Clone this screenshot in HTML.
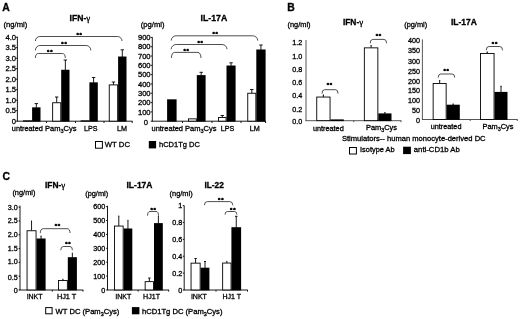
<!DOCTYPE html>
<html lang="en">
<head>
<meta charset="utf-8">
<title>Figure</title>
<style>
html,body{margin:0;padding:0;background:#fff;}
body{width:520px;height:319px;overflow:hidden;}
svg{display:block;font-family:"Liberation Sans", sans-serif;fill:#000;}
text{stroke:#000;stroke-width:0.3px;}
</style>
</head>
<body>
<svg width="520" height="319" viewBox="0 0 520 319">
<rect x="0" y="0" width="520" height="319" fill="#fff"/>
<text x="2.2" y="10.7" font-size="10.4" font-weight="bold">A</text>
<text x="69.6" y="20.6" font-size="8.6" font-weight="bold">IFN-<tspan font-family="'Liberation Serif', serif" font-weight="normal" font-size="9">γ</tspan></text>
<text x="3.6" y="27.2" font-size="7.6">(ng/ml)</text>
<line x1="17.4" y1="36.8" x2="17.4" y2="121.2" stroke="#000" stroke-width="0.9"/>
<line x1="15.799999999999999" y1="121.2" x2="17.4" y2="121.2" stroke="#000" stroke-width="0.9"/>
<text x="16.0" y="123.92" font-size="7.6" text-anchor="end">0</text>
<line x1="15.799999999999999" y1="110.7" x2="17.4" y2="110.7" stroke="#000" stroke-width="0.9"/>
<text x="16.0" y="113.42" font-size="7.6" text-anchor="end">0.5</text>
<line x1="15.799999999999999" y1="100.2" x2="17.4" y2="100.2" stroke="#000" stroke-width="0.9"/>
<text x="16.0" y="102.92" font-size="7.6" text-anchor="end">1.0</text>
<line x1="15.799999999999999" y1="89.7" x2="17.4" y2="89.7" stroke="#000" stroke-width="0.9"/>
<text x="16.0" y="92.42" font-size="7.6" text-anchor="end">1.5</text>
<line x1="15.799999999999999" y1="79.2" x2="17.4" y2="79.2" stroke="#000" stroke-width="0.9"/>
<text x="16.0" y="81.92" font-size="7.6" text-anchor="end">2.0</text>
<line x1="15.799999999999999" y1="68.7" x2="17.4" y2="68.7" stroke="#000" stroke-width="0.9"/>
<text x="16.0" y="71.42" font-size="7.6" text-anchor="end">2.5</text>
<line x1="15.799999999999999" y1="58.2" x2="17.4" y2="58.2" stroke="#000" stroke-width="0.9"/>
<text x="16.0" y="60.92" font-size="7.6" text-anchor="end">3.0</text>
<line x1="15.799999999999999" y1="47.7" x2="17.4" y2="47.7" stroke="#000" stroke-width="0.9"/>
<text x="16.0" y="50.42" font-size="7.6" text-anchor="end">3.5</text>
<line x1="15.799999999999999" y1="37.2" x2="17.4" y2="37.2" stroke="#000" stroke-width="0.9"/>
<text x="16.0" y="39.92" font-size="7.6" text-anchor="end">4.0</text>
<line x1="17.0" y1="121.2" x2="132.5" y2="121.2" stroke="#000" stroke-width="0.9"/>
<line x1="46.5" y1="121.2" x2="46.5" y2="123.0" stroke="#000" stroke-width="0.9"/>
<line x1="75.5" y1="121.2" x2="75.5" y2="123.0" stroke="#000" stroke-width="0.9"/>
<line x1="104" y1="121.2" x2="104" y2="123.0" stroke="#000" stroke-width="0.9"/>
<line x1="132.2" y1="121.2" x2="132.2" y2="123.0" stroke="#000" stroke-width="0.9"/>
<rect x="23" y="120.36" width="9" height="1.2399999999999949" fill="#000"/>
<line x1="36.3" y1="103.6" x2="36.3" y2="107.84" stroke="#000" stroke-width="0.9"/>
<line x1="34.599999999999994" y1="103.6" x2="38.0" y2="103.6" stroke="#000" stroke-width="0.9"/>
<rect x="32.1" y="107.34" width="8.399999999999999" height="14.259999999999991" fill="#000"/>
<line x1="56.7" y1="97" x2="56.7" y2="102.8" stroke="#000" stroke-width="0.9"/>
<line x1="55.0" y1="97" x2="58.400000000000006" y2="97" stroke="#000" stroke-width="0.9"/>
<rect x="52.650000000000006" y="102.75" width="8.1" height="18.4" fill="#fff" stroke="#000" stroke-width="0.9"/>
<line x1="65.35" y1="60" x2="65.35" y2="70.25" stroke="#000" stroke-width="0.9"/>
<line x1="63.64999999999999" y1="60" x2="67.05" y2="60" stroke="#000" stroke-width="0.9"/>
<rect x="61.2" y="69.75" width="8.299999999999997" height="51.849999999999994" fill="#000"/>
<rect x="80.6" y="120.36" width="8.800000000000011" height="1.2399999999999949" fill="#000"/>
<line x1="93.6" y1="77.5" x2="93.6" y2="82.85" stroke="#000" stroke-width="0.9"/>
<line x1="91.89999999999999" y1="77.5" x2="95.3" y2="77.5" stroke="#000" stroke-width="0.9"/>
<rect x="89.4" y="82.35" width="8.399999999999991" height="39.25" fill="#000"/>
<line x1="113.44999999999999" y1="82" x2="113.44999999999999" y2="84.95" stroke="#000" stroke-width="0.9"/>
<line x1="111.74999999999999" y1="82" x2="115.14999999999999" y2="82" stroke="#000" stroke-width="0.9"/>
<rect x="109.25" y="84.9" width="8.399999999999997" height="36.24999999999999" fill="#fff" stroke="#000" stroke-width="0.9"/>
<line x1="122.3" y1="49.8" x2="122.3" y2="57.02" stroke="#000" stroke-width="0.9"/>
<line x1="120.6" y1="49.8" x2="124.0" y2="49.8" stroke="#000" stroke-width="0.9"/>
<rect x="118.1" y="56.52" width="8.400000000000006" height="65.07999999999998" fill="#000"/>
<text x="11.8" y="130.8" font-size="7.5" textLength="31" lengthAdjust="spacingAndGlyphs">untreated</text>
<text x="45" y="130.8" font-size="7.5" textLength="31.5" lengthAdjust="spacingAndGlyphs">Pam<tspan font-size="5.5" dy="2">3</tspan><tspan dy="-2">Cys</tspan></text>
<text x="84" y="130.8" font-size="7.5" textLength="13.5" lengthAdjust="spacingAndGlyphs">LPS</text>
<text x="116.9" y="130.8" font-size="7.5" textLength="10" lengthAdjust="spacingAndGlyphs">LM</text>
<path d="M35.4,41 A4.5,4.5 0 0 1 39.9,36.5 L117.5,36.5 A4.5,4.5 0 0 1 122,41" fill="none" stroke="#222" stroke-width="0.8"/>
<text x="79.6" y="36.5" font-size="6" text-anchor="middle" font-weight="bold" letter-spacing="0.8" style="stroke-width:0.45px">**</text>
<path d="M35.4,50.4 A4.5,4.899999999999999 0 0 1 39.9,45.5 L86.3,45.5 A4.5,4.899999999999999 0 0 1 90.8,50.4" fill="none" stroke="#222" stroke-width="0.8"/>
<text x="64.4" y="45.75" font-size="6" text-anchor="middle" font-weight="bold" letter-spacing="0.8" style="stroke-width:0.45px">**</text>
<path d="M35.4,58 A3,4.5 0 0 1 38.4,53.5 L62.3,53.5 A3,4.5 0 0 1 65.3,58" fill="none" stroke="#222" stroke-width="0.8"/>
<text x="50.2" y="53.9" font-size="6" text-anchor="middle" font-weight="bold" letter-spacing="0.8" style="stroke-width:0.45px">**</text>
<text x="200.6" y="20.6" font-size="8.7" font-weight="bold" textLength="26.7" lengthAdjust="spacingAndGlyphs">IL-17A</text>
<text x="140.8" y="27.2" font-size="7.6">(pg/ml)</text>
<line x1="152.3" y1="37.2" x2="152.3" y2="121.2" stroke="#000" stroke-width="0.9"/>
<line x1="150.70000000000002" y1="121.2" x2="152.3" y2="121.2" stroke="#000" stroke-width="0.9"/>
<line x1="150.70000000000002" y1="111.89" x2="152.3" y2="111.89" stroke="#000" stroke-width="0.9"/>
<text x="150.6" y="114.61" font-size="7.6" text-anchor="end">100</text>
<line x1="150.70000000000002" y1="102.58" x2="152.3" y2="102.58" stroke="#000" stroke-width="0.9"/>
<text x="150.6" y="105.3" font-size="7.6" text-anchor="end">200</text>
<line x1="150.70000000000002" y1="93.27" x2="152.3" y2="93.27" stroke="#000" stroke-width="0.9"/>
<text x="150.6" y="95.99" font-size="7.6" text-anchor="end">300</text>
<line x1="150.70000000000002" y1="83.96" x2="152.3" y2="83.96" stroke="#000" stroke-width="0.9"/>
<text x="150.6" y="86.68" font-size="7.6" text-anchor="end">400</text>
<line x1="150.70000000000002" y1="74.64" x2="152.3" y2="74.64" stroke="#000" stroke-width="0.9"/>
<text x="150.6" y="77.36" font-size="7.6" text-anchor="end">500</text>
<line x1="150.70000000000002" y1="65.33" x2="152.3" y2="65.33" stroke="#000" stroke-width="0.9"/>
<text x="150.6" y="68.05" font-size="7.6" text-anchor="end">600</text>
<line x1="150.70000000000002" y1="56.02" x2="152.3" y2="56.02" stroke="#000" stroke-width="0.9"/>
<text x="150.6" y="58.74" font-size="7.6" text-anchor="end">700</text>
<line x1="150.70000000000002" y1="46.71" x2="152.3" y2="46.71" stroke="#000" stroke-width="0.9"/>
<text x="150.6" y="49.43" font-size="7.6" text-anchor="end">800</text>
<line x1="150.70000000000002" y1="37.4" x2="152.3" y2="37.4" stroke="#000" stroke-width="0.9"/>
<text x="150.6" y="40.12" font-size="7.6" text-anchor="end">900</text>
<text x="147.9" y="124.6" font-size="7.6" text-anchor="end">0</text>
<line x1="151.9" y1="121.2" x2="266" y2="121.2" stroke="#000" stroke-width="0.9"/>
<line x1="182.5" y1="121.2" x2="182.5" y2="123.0" stroke="#000" stroke-width="0.9"/>
<line x1="212" y1="121.2" x2="212" y2="123.0" stroke="#000" stroke-width="0.9"/>
<line x1="241" y1="121.2" x2="241" y2="123.0" stroke="#000" stroke-width="0.9"/>
<line x1="265.6" y1="121.2" x2="265.6" y2="123.0" stroke="#000" stroke-width="0.9"/>
<rect x="167.1" y="99.32" width="9.5" height="22.28" fill="#000"/>
<rect x="188.45" y="118.86" width="7.900000000000011" height="2.289999999999998" fill="#fff" stroke="#000" stroke-width="0.9"/>
<line x1="201.2" y1="72.3" x2="201.2" y2="75.61" stroke="#000" stroke-width="0.9"/>
<line x1="199.5" y1="72.3" x2="202.89999999999998" y2="72.3" stroke="#000" stroke-width="0.9"/>
<rect x="196.8" y="75.11" width="8.799999999999983" height="46.489999999999995" fill="#000"/>
<line x1="222.3" y1="115.5" x2="222.3" y2="117.51" stroke="#000" stroke-width="0.9"/>
<line x1="220.60000000000002" y1="115.5" x2="224.0" y2="115.5" stroke="#000" stroke-width="0.9"/>
<rect x="218.54999999999998" y="117.46000000000001" width="7.500000000000005" height="3.6899999999999893" fill="#fff" stroke="#000" stroke-width="0.9"/>
<line x1="231.05" y1="62.8" x2="231.05" y2="66.02" stroke="#000" stroke-width="0.9"/>
<line x1="229.35000000000002" y1="62.8" x2="232.75" y2="62.8" stroke="#000" stroke-width="0.9"/>
<rect x="226.5" y="65.52" width="9.099999999999994" height="56.08" fill="#000"/>
<line x1="251.8" y1="89.5" x2="251.8" y2="93.3" stroke="#000" stroke-width="0.9"/>
<line x1="250.10000000000002" y1="89.5" x2="253.5" y2="89.5" stroke="#000" stroke-width="0.9"/>
<rect x="247.75" y="93.25" width="8.1" height="27.9" fill="#fff" stroke="#000" stroke-width="0.9"/>
<line x1="260.95000000000005" y1="45" x2="260.95000000000005" y2="50.0" stroke="#000" stroke-width="0.9"/>
<line x1="259.25000000000006" y1="45" x2="262.65000000000003" y2="45" stroke="#000" stroke-width="0.9"/>
<rect x="256.3" y="49.5" width="9.300000000000011" height="72.1" fill="#000"/>
<text x="151.5" y="130.8" font-size="7.5" textLength="31.5" lengthAdjust="spacingAndGlyphs">untreated</text>
<text x="185" y="130.8" font-size="7.5" textLength="31.5" lengthAdjust="spacingAndGlyphs">Pam<tspan font-size="5.5" dy="2">3</tspan><tspan dy="-2">Cys</tspan></text>
<text x="220.8" y="130.8" font-size="7.5" textLength="13.5" lengthAdjust="spacingAndGlyphs">LPS</text>
<text x="249.7" y="130.8" font-size="7.5" textLength="10" lengthAdjust="spacingAndGlyphs">LM</text>
<path d="M171.2,40.6 A5,4.800000000000004 0 0 1 176.2,35.8 L252.7,35.8 A5,4.800000000000004 0 0 1 257.7,40.6" fill="none" stroke="#222" stroke-width="0.8"/>
<text x="215.6" y="36.25" font-size="6" text-anchor="middle" font-weight="bold" letter-spacing="0.8" style="stroke-width:0.45px">**</text>
<path d="M171.2,49.2 A5,4.700000000000003 0 0 1 176.2,44.5 L222,44.5 A5,4.700000000000003 0 0 1 227,49.2" fill="none" stroke="#222" stroke-width="0.8"/>
<text x="200.6" y="45.4" font-size="6" text-anchor="middle" font-weight="bold" letter-spacing="0.8" style="stroke-width:0.45px">**</text>
<path d="M171.4,58 A3,5.600000000000001 0 0 1 174.4,52.4 L198,52.4 A3,5.600000000000001 0 0 1 201,58" fill="none" stroke="#222" stroke-width="0.8"/>
<text x="186.6" y="53.1" font-size="6" text-anchor="middle" font-weight="bold" letter-spacing="0.8" style="stroke-width:0.45px">**</text>
<rect x="95.5" y="141.5" width="6.9" height="6.7" fill="#fff" stroke="#000" stroke-width="1.0"/>
<text x="104.8" y="147.1" font-size="7.7" textLength="25.2" lengthAdjust="spacingAndGlyphs">WT DC</text>
<rect x="148.8" y="141" width="7.3" height="7.4" fill="#000"/>
<text x="159" y="147.1" font-size="7.7" textLength="41" lengthAdjust="spacingAndGlyphs">hCD1Tg DC</text>
<text x="287.2" y="10.5" font-size="10.4" font-weight="bold">B</text>
<text x="342.9" y="24.9" font-size="8.4" font-weight="bold">IFN-<tspan font-family="'Liberation Serif', serif" font-weight="normal" font-size="9">γ</tspan></text>
<text x="287.5" y="27.0" font-size="7.4">(ng/ml)</text>
<line x1="306" y1="40" x2="306" y2="121" stroke="#444" stroke-width="0.9"/>
<text x="302.2" y="123.83" font-size="7.2" text-anchor="end">0.0</text>
<text x="302.2" y="112.18" font-size="7.2" text-anchor="end">0.2</text>
<text x="302.2" y="98.38" font-size="7.2" text-anchor="end">0.4</text>
<text x="302.2" y="85.08" font-size="7.2" text-anchor="end">0.6</text>
<text x="302.2" y="72.08" font-size="7.2" text-anchor="end">0.8</text>
<text x="302.2" y="58.68" font-size="7.2" text-anchor="end">1.0</text>
<text x="302.2" y="45.33" font-size="7.2" text-anchor="end">1.2</text>
<line x1="305.6" y1="120.7" x2="401.3" y2="120.7" stroke="#444" stroke-width="0.9"/>
<line x1="353.7" y1="120.7" x2="353.7" y2="122.2" stroke="#444" stroke-width="0.9"/>
<line x1="401" y1="120.7" x2="401" y2="122.2" stroke="#444" stroke-width="0.9"/>
<line x1="323.4" y1="95" x2="323.4" y2="97.1" stroke="#000" stroke-width="0.9"/>
<line x1="322.79999999999995" y1="95" x2="324.0" y2="95" stroke="#000" stroke-width="0.9"/>
<rect x="316.75" y="97.05" width="13.299999999999988" height="23.6" fill="#fff" stroke="#000" stroke-width="0.9"/>
<rect x="330.5" y="119.4" width="13.300000000000011" height="1.6999999999999886" fill="#000"/>
<line x1="371.1" y1="45.6" x2="371.1" y2="47.9" stroke="#000" stroke-width="0.9"/>
<line x1="370.5" y1="45.6" x2="371.70000000000005" y2="45.6" stroke="#000" stroke-width="0.9"/>
<rect x="364.34999999999997" y="47.85" width="13.500000000000034" height="72.79999999999998" fill="#fff" stroke="#000" stroke-width="0.9"/>
<line x1="384.9" y1="112.6" x2="384.9" y2="113.9" stroke="#000" stroke-width="0.9"/>
<line x1="384.29999999999995" y1="112.6" x2="385.5" y2="112.6" stroke="#000" stroke-width="0.9"/>
<rect x="378.3" y="113.4" width="13.199999999999989" height="7.699999999999989" fill="#000"/>
<text x="312.9" y="130.5" font-size="7.3" textLength="30.8" lengthAdjust="spacingAndGlyphs">untreated</text>
<text x="366" y="130.2" font-size="7.3" textLength="31" lengthAdjust="spacingAndGlyphs">Pam<tspan font-size="5.3" dy="2">3</tspan><tspan dy="-2">Cys</tspan></text>
<path d="M322,93.6 A2.6,3.8999999999999915 0 0 1 324.6,89.7 L335.5,89.7 A2.6,3.8999999999999915 0 0 1 338.1,93.6" fill="none" stroke="#222" stroke-width="0.8"/>
<text x="329.8" y="87.0" font-size="6" text-anchor="middle" font-weight="bold" letter-spacing="0.8" style="stroke-width:0.45px">**</text>
<path d="M370.2,43.3 A2.6,3.8999999999999986 0 0 1 372.8,39.4 L384.0,39.4 A2.6,3.8999999999999986 0 0 1 386.6,43.3" fill="none" stroke="#222" stroke-width="0.8"/>
<text x="378.8" y="37.5" font-size="6" text-anchor="middle" font-weight="bold" letter-spacing="0.8" style="stroke-width:0.45px">**</text>
<text x="341.9" y="140.8" font-size="7.5" textLength="143.7" lengthAdjust="spacingAndGlyphs">Stimulators-- human monocyte-derived DC</text>
<rect x="349.5" y="147.5" width="6.9" height="6.5" fill="#fff" stroke="#000" stroke-width="1.0"/>
<text x="360" y="152" font-size="7.5" textLength="34.6" lengthAdjust="spacingAndGlyphs">Isotype Ab</text>
<rect x="403.1" y="146.7" width="7.8" height="7.4" fill="#000"/>
<text x="413.8" y="152" font-size="7.5" textLength="46" lengthAdjust="spacingAndGlyphs">anti-CD1b Ab</text>
<text x="451" y="24.9" font-size="8.4" font-weight="bold" textLength="25.9" lengthAdjust="spacingAndGlyphs">IL-17A</text>
<text x="404.2" y="27.3" font-size="7.4">(pg/ml)</text>
<line x1="422.4" y1="39.4" x2="422.4" y2="120" stroke="#444" stroke-width="0.9"/>
<text x="419.9" y="122.58" font-size="7.2" text-anchor="end">0</text>
<text x="419.9" y="112.83" font-size="7.2" text-anchor="end">50</text>
<text x="419.9" y="103.18" font-size="7.2" text-anchor="end">100</text>
<text x="419.9" y="93.18" font-size="7.2" text-anchor="end">150</text>
<text x="419.9" y="83.68" font-size="7.2" text-anchor="end">200</text>
<text x="419.9" y="73.83" font-size="7.2" text-anchor="end">250</text>
<text x="419.9" y="63.58" font-size="7.2" text-anchor="end">300</text>
<text x="419.9" y="53.38" font-size="7.2" text-anchor="end">350</text>
<text x="419.9" y="43.18" font-size="7.2" text-anchor="end">400</text>
<line x1="422" y1="119.5" x2="517.6" y2="119.5" stroke="#444" stroke-width="0.9"/>
<line x1="470.2" y1="119.5" x2="470.2" y2="121.0" stroke="#444" stroke-width="0.9"/>
<line x1="517.3" y1="119.5" x2="517.3" y2="121.0" stroke="#444" stroke-width="0.9"/>
<line x1="439.65" y1="80.6" x2="439.65" y2="83.5" stroke="#000" stroke-width="0.9"/>
<line x1="439.04999999999995" y1="80.6" x2="440.25" y2="80.6" stroke="#000" stroke-width="0.9"/>
<rect x="433.15" y="83.45" width="13.000000000000034" height="36.00000000000001" fill="#fff" stroke="#000" stroke-width="0.9"/>
<line x1="453.20000000000005" y1="104.0" x2="453.20000000000005" y2="105.2" stroke="#000" stroke-width="0.9"/>
<line x1="452.6" y1="104.0" x2="453.80000000000007" y2="104.0" stroke="#000" stroke-width="0.9"/>
<rect x="446.6" y="104.7" width="13.199999999999989" height="15.200000000000003" fill="#000"/>
<line x1="487.25" y1="52.0" x2="487.25" y2="53.5" stroke="#000" stroke-width="0.9"/>
<line x1="486.65" y1="52.0" x2="487.85" y2="52.0" stroke="#000" stroke-width="0.9"/>
<rect x="480.45" y="53.45" width="13.6" height="66.0" fill="#fff" stroke="#000" stroke-width="0.9"/>
<line x1="501.0" y1="86.3" x2="501.0" y2="92.4" stroke="#000" stroke-width="0.9"/>
<line x1="500.3" y1="86.3" x2="501.7" y2="86.3" stroke="#000" stroke-width="0.9"/>
<rect x="494.5" y="91.9" width="13.0" height="28.0" fill="#000"/>
<text x="430.7" y="128.9" font-size="7.3" textLength="30.8" lengthAdjust="spacingAndGlyphs">untreated</text>
<text x="482.5" y="128.9" font-size="7.3" textLength="31" lengthAdjust="spacingAndGlyphs">Pam<tspan font-size="5.3" dy="2">3</tspan><tspan dy="-2">Cys</tspan></text>
<path d="M438.2,77.6 A2.6,3.5999999999999943 0 0 1 440.8,74 L452.09999999999997,74 A2.6,3.5999999999999943 0 0 1 454.7,77.6" fill="none" stroke="#222" stroke-width="0.8"/>
<text x="446.6" y="72.5" font-size="6" text-anchor="middle" font-weight="bold" letter-spacing="0.8" style="stroke-width:0.45px">**</text>
<path d="M486.3,50.3 A2.6,3.799999999999997 0 0 1 488.90000000000003,46.5 L499.9,46.5 A2.6,3.799999999999997 0 0 1 502.5,50.3" fill="none" stroke="#222" stroke-width="0.8"/>
<text x="495.0" y="46.2" font-size="6" text-anchor="middle" font-weight="bold" letter-spacing="0.8" style="stroke-width:0.45px">**</text>
<text x="2.4" y="179.9" font-size="10.4" font-weight="bold">C</text>
<text x="45" y="188.2" font-size="8.4" font-weight="bold">IFN-<tspan font-family="'Liberation Serif', serif" font-weight="normal" font-size="9">γ</tspan></text>
<text x="12.4" y="195.4" font-size="7.4">(ng/ml)</text>
<line x1="20" y1="205.6" x2="20" y2="290" stroke="#000" stroke-width="0.9"/>
<line x1="18.6" y1="290.0" x2="20" y2="290.0" stroke="#000" stroke-width="0.9"/>
<text x="17.8" y="292.83" font-size="7.2" text-anchor="end">0</text>
<line x1="18.6" y1="276.2" x2="20" y2="276.2" stroke="#000" stroke-width="0.9"/>
<text x="17.8" y="279.58" font-size="7.2" text-anchor="end">0.5</text>
<line x1="18.6" y1="262.4" x2="20" y2="262.4" stroke="#000" stroke-width="0.9"/>
<text x="17.8" y="264.48" font-size="7.2" text-anchor="end">1.0</text>
<line x1="18.6" y1="248.6" x2="20" y2="248.6" stroke="#000" stroke-width="0.9"/>
<text x="17.8" y="250.88" font-size="7.2" text-anchor="end">1.5</text>
<line x1="18.6" y1="234.8" x2="20" y2="234.8" stroke="#000" stroke-width="0.9"/>
<text x="17.8" y="237.48" font-size="7.2" text-anchor="end">2.0</text>
<line x1="18.6" y1="221.0" x2="20" y2="221.0" stroke="#000" stroke-width="0.9"/>
<text x="17.8" y="223.38" font-size="7.2" text-anchor="end">2.5</text>
<line x1="18.6" y1="207.2" x2="20" y2="207.2" stroke="#000" stroke-width="0.9"/>
<text x="17.8" y="209.58" font-size="7.2" text-anchor="end">3.0</text>
<line x1="19.6" y1="290" x2="83.3" y2="290" stroke="#000" stroke-width="0.9"/>
<line x1="52.3" y1="290" x2="52.3" y2="291.6" stroke="#000" stroke-width="0.9"/>
<line x1="83" y1="290" x2="83" y2="291.6" stroke="#000" stroke-width="0.9"/>
<line x1="31.55" y1="221" x2="31.55" y2="230.8" stroke="#000" stroke-width="0.9"/>
<line x1="31.1" y1="221" x2="32.0" y2="221" stroke="#000" stroke-width="0.9"/>
<rect x="27.05" y="230.75" width="8.999999999999998" height="59.19999999999997" fill="#fff" stroke="#000" stroke-width="0.9"/>
<line x1="41.05" y1="236" x2="41.05" y2="239.0" stroke="#000" stroke-width="0.9"/>
<line x1="40.599999999999994" y1="236" x2="41.5" y2="236" stroke="#000" stroke-width="0.9"/>
<rect x="36.5" y="238.5" width="9.100000000000001" height="51.89999999999998" fill="#000"/>
<line x1="62.9" y1="279.2" x2="62.9" y2="280.5" stroke="#000" stroke-width="0.9"/>
<line x1="62.449999999999996" y1="279.2" x2="63.35" y2="279.2" stroke="#000" stroke-width="0.9"/>
<rect x="58.45" y="280.45" width="8.899999999999997" height="9.499999999999977" fill="#fff" stroke="#000" stroke-width="0.9"/>
<line x1="72.35" y1="253.2" x2="72.35" y2="257.7" stroke="#000" stroke-width="0.9"/>
<line x1="71.89999999999999" y1="253.2" x2="72.8" y2="253.2" stroke="#000" stroke-width="0.9"/>
<rect x="67.8" y="257.2" width="9.100000000000009" height="33.19999999999999" fill="#000"/>
<text x="26.9" y="298.8" font-size="7.2" textLength="15.6" lengthAdjust="spacingAndGlyphs">iNKT</text>
<text x="56.9" y="298.8" font-size="7.2" textLength="19.4" lengthAdjust="spacingAndGlyphs">HJ1 T</text>
<path d="M40.3,233 A3,4.300000000000011 0 0 1 43.3,228.7 L67,228.7 A3,4.300000000000011 0 0 1 70,233" fill="none" stroke="#222" stroke-width="0.8"/>
<text x="57.8" y="228.4" font-size="6" text-anchor="middle" font-weight="bold" letter-spacing="0.8" style="stroke-width:0.45px">**</text>
<path d="M60.8,250.2 A2.4,3.6999999999999886 0 0 1 63.199999999999996,246.5 L70.0,246.5 A2.4,3.6999999999999886 0 0 1 72.4,250.2" fill="none" stroke="#222" stroke-width="0.8"/>
<text x="68.3" y="246.1" font-size="6" text-anchor="middle" font-weight="bold" letter-spacing="0.8" style="stroke-width:0.45px">**</text>
<text x="126.5" y="188.2" font-size="8.4" font-weight="bold" textLength="26" lengthAdjust="spacingAndGlyphs">IL-17A</text>
<text x="85.2" y="195.6" font-size="7.4">(pg/ml)</text>
<line x1="107.5" y1="205.8" x2="107.5" y2="290" stroke="#000" stroke-width="0.9"/>
<line x1="106.1" y1="290.0" x2="107.5" y2="290.0" stroke="#000" stroke-width="0.9"/>
<text x="105.3" y="292.83" font-size="7.2" text-anchor="end">0</text>
<line x1="106.1" y1="276.1" x2="107.5" y2="276.1" stroke="#000" stroke-width="0.9"/>
<text x="105.3" y="279.08" font-size="7.2" text-anchor="end">100</text>
<line x1="106.1" y1="262.2" x2="107.5" y2="262.2" stroke="#000" stroke-width="0.9"/>
<text x="105.3" y="264.83" font-size="7.2" text-anchor="end">200</text>
<line x1="106.1" y1="248.3" x2="107.5" y2="248.3" stroke="#000" stroke-width="0.9"/>
<text x="105.3" y="250.88" font-size="7.2" text-anchor="end">300</text>
<line x1="106.1" y1="234.4" x2="107.5" y2="234.4" stroke="#000" stroke-width="0.9"/>
<text x="105.3" y="236.98" font-size="7.2" text-anchor="end">400</text>
<line x1="106.1" y1="220.5" x2="107.5" y2="220.5" stroke="#000" stroke-width="0.9"/>
<text x="105.3" y="223.18" font-size="7.2" text-anchor="end">500</text>
<line x1="106.1" y1="206.6" x2="107.5" y2="206.6" stroke="#000" stroke-width="0.9"/>
<text x="105.3" y="208.88" font-size="7.2" text-anchor="end">600</text>
<line x1="107.1" y1="290" x2="169" y2="290" stroke="#000" stroke-width="0.9"/>
<line x1="138.1" y1="290" x2="138.1" y2="291.6" stroke="#000" stroke-width="0.9"/>
<line x1="168.7" y1="290" x2="168.7" y2="291.6" stroke="#000" stroke-width="0.9"/>
<line x1="118.8" y1="216" x2="118.8" y2="226.1" stroke="#000" stroke-width="0.9"/>
<line x1="118.35" y1="216" x2="119.25" y2="216" stroke="#000" stroke-width="0.9"/>
<rect x="114.45" y="226.04999999999998" width="8.699999999999994" height="63.899999999999984" fill="#fff" stroke="#000" stroke-width="0.9"/>
<line x1="127.95" y1="220.3" x2="127.95" y2="229.0" stroke="#000" stroke-width="0.9"/>
<line x1="127.5" y1="220.3" x2="128.4" y2="220.3" stroke="#000" stroke-width="0.9"/>
<rect x="123.6" y="228.5" width="8.700000000000017" height="61.89999999999998" fill="#000"/>
<line x1="149.35" y1="278" x2="149.35" y2="281.7" stroke="#000" stroke-width="0.9"/>
<line x1="148.15" y1="278" x2="150.54999999999998" y2="278" stroke="#000" stroke-width="0.9"/>
<rect x="145.14999999999998" y="281.65" width="8.400000000000011" height="8.299999999999988" fill="#fff" stroke="#000" stroke-width="0.9"/>
<line x1="158.4" y1="216.3" x2="158.4" y2="223.6" stroke="#000" stroke-width="0.9"/>
<line x1="157.95000000000002" y1="216.3" x2="158.85" y2="216.3" stroke="#000" stroke-width="0.9"/>
<rect x="154" y="223.1" width="8.800000000000011" height="67.29999999999998" fill="#000"/>
<text x="115.6" y="298.8" font-size="7.2" textLength="15.6" lengthAdjust="spacingAndGlyphs">iNKT</text>
<text x="143.1" y="298.8" font-size="7.2" textLength="16.9" lengthAdjust="spacingAndGlyphs">HJ1T</text>
<path d="M147.6,215.7 A2.4,4.199999999999989 0 0 1 150.0,211.5 L156.1,211.5 A2.4,4.199999999999989 0 0 1 158.5,215.7" fill="none" stroke="#222" stroke-width="0.8"/>
<text x="153.6" y="211.8" font-size="6" text-anchor="middle" font-weight="bold" letter-spacing="0.8" style="stroke-width:0.45px">**</text>
<text x="204.4" y="188.2" font-size="8.4" font-weight="bold" textLength="19.4" lengthAdjust="spacingAndGlyphs">IL-22</text>
<text x="169.6" y="195.6" font-size="7.4">(ng/ml)</text>
<line x1="184.2" y1="205.6" x2="184.2" y2="290" stroke="#000" stroke-width="0.9"/>
<line x1="182.79999999999998" y1="290.0" x2="184.2" y2="290.0" stroke="#000" stroke-width="0.9"/>
<text x="182.2" y="292.83" font-size="7.2" text-anchor="end">0</text>
<line x1="182.79999999999998" y1="273.12" x2="184.2" y2="273.12" stroke="#000" stroke-width="0.9"/>
<text x="182.2" y="276.18" font-size="7.2" text-anchor="end">0.2</text>
<line x1="182.79999999999998" y1="256.24" x2="184.2" y2="256.24" stroke="#000" stroke-width="0.9"/>
<text x="182.2" y="259.28" font-size="7.2" text-anchor="end">0.4</text>
<line x1="182.79999999999998" y1="239.36" x2="184.2" y2="239.36" stroke="#000" stroke-width="0.9"/>
<text x="182.2" y="242.18" font-size="7.2" text-anchor="end">0.6</text>
<line x1="182.79999999999998" y1="222.48" x2="184.2" y2="222.48" stroke="#000" stroke-width="0.9"/>
<text x="182.2" y="225.08" font-size="7.2" text-anchor="end">0.8</text>
<line x1="182.79999999999998" y1="205.6" x2="184.2" y2="205.6" stroke="#000" stroke-width="0.9"/>
<text x="182.2" y="208.18" font-size="7.2" text-anchor="end">1</text>
<line x1="183.8" y1="290" x2="247.8" y2="290" stroke="#000" stroke-width="0.9"/>
<line x1="216" y1="290" x2="216" y2="291.6" stroke="#000" stroke-width="0.9"/>
<line x1="247.5" y1="290" x2="247.5" y2="291.6" stroke="#000" stroke-width="0.9"/>
<line x1="195.6" y1="258.5" x2="195.6" y2="263.2" stroke="#000" stroke-width="0.9"/>
<line x1="194.4" y1="258.5" x2="196.79999999999998" y2="258.5" stroke="#000" stroke-width="0.9"/>
<rect x="191.04999999999998" y="263.15" width="9.1" height="26.79999999999999" fill="#fff" stroke="#000" stroke-width="0.9"/>
<line x1="205.0" y1="261.5" x2="205.0" y2="268.2" stroke="#000" stroke-width="0.9"/>
<line x1="204.0" y1="261.5" x2="206.0" y2="261.5" stroke="#000" stroke-width="0.9"/>
<rect x="200.6" y="267.7" width="8.800000000000011" height="22.69999999999999" fill="#000"/>
<line x1="226.85" y1="261.4" x2="226.85" y2="263.1" stroke="#000" stroke-width="0.9"/>
<line x1="226.4" y1="261.4" x2="227.29999999999998" y2="261.4" stroke="#000" stroke-width="0.9"/>
<rect x="222.64999999999998" y="263.05" width="8.400000000000011" height="26.899999999999956" fill="#fff" stroke="#000" stroke-width="0.9"/>
<line x1="236.25" y1="216.3" x2="236.25" y2="227.7" stroke="#000" stroke-width="0.9"/>
<line x1="234.95" y1="216.3" x2="237.55" y2="216.3" stroke="#000" stroke-width="0.9"/>
<rect x="231.4" y="227.2" width="9.699999999999989" height="63.19999999999999" fill="#000"/>
<text x="191.3" y="298.8" font-size="7.2" textLength="15.6" lengthAdjust="spacingAndGlyphs">iNKT</text>
<text x="222.4" y="298.8" font-size="7.2" textLength="18.6" lengthAdjust="spacingAndGlyphs">HJ1 T</text>
<path d="M204.4,205.2 A3,3.5999999999999943 0 0 1 207.4,201.6 L229.8,201.6 A3,3.5999999999999943 0 0 1 232.8,205.2" fill="none" stroke="#222" stroke-width="0.8"/>
<text x="221.2" y="201.7" font-size="6" text-anchor="middle" font-weight="bold" letter-spacing="0.8" style="stroke-width:0.45px">**</text>
<path d="M225,214.6 A2.4,3.0999999999999943 0 0 1 227.4,211.5 L234.5,211.5 A2.4,3.0999999999999943 0 0 1 236.9,214.6" fill="none" stroke="#222" stroke-width="0.8"/>
<text x="233.2" y="211.5" font-size="6" text-anchor="middle" font-weight="bold" letter-spacing="0.8" style="stroke-width:0.45px">**</text>
<rect x="45.7" y="307.6" width="6.4" height="6.2" fill="#fff" stroke="#000" stroke-width="1.0"/>
<text x="55.6" y="313.7" font-size="7.3" textLength="63.8" lengthAdjust="spacingAndGlyphs">WT DC (Pam<tspan font-size="5.2" dy="2">3</tspan><tspan dy="-2">Cys</tspan>)</text>
<rect x="131.9" y="307.1" width="7.5" height="7.2" fill="#000"/>
<text x="141.9" y="313.7" font-size="7.3" textLength="80.6" lengthAdjust="spacingAndGlyphs">hCD1Tg DC (Pam<tspan font-size="5.2" dy="2">3</tspan><tspan dy="-2">Cys</tspan>)</text>
</svg>
</body>
</html>
